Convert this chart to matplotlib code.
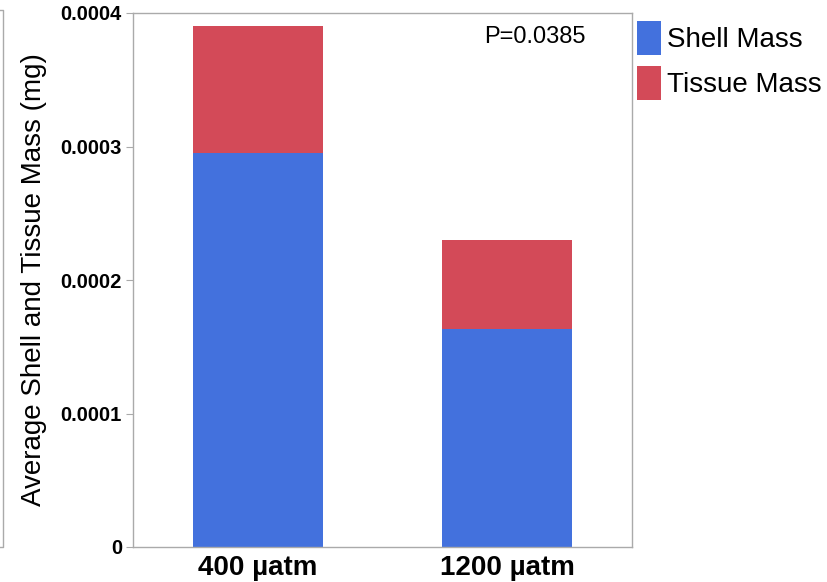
"""Stacked bars: average shell and tissue mass under two pCO2 treatments."""

import matplotlib

matplotlib.use("Agg")
import matplotlib.pyplot as plt
from matplotlib.lines import Line2D

plt.rcParams["font.family"] = ["Liberation Sans", "DejaVu Sans"]

treatments = ["400 \u00b5atm", "1200 \u00b5atm"]
shell_mass = [0.000295, 0.000163]
tissue_mass = [0.000095, 0.000067]
p_value_text = "P=0.0385"

SHELL_COLOR = "#4371DD"
TISSUE_COLOR = "#D34A58"
SPINE_COLOR = "#AAAAAA"

fig = plt.figure(figsize=(8.27, 5.82), dpi=100)
ax = fig.add_axes([133 / 827, 35 / 582, 499 / 827, 534 / 582])

x = range(len(treatments))
ax.bar(x, shell_mass, width=0.52, color=SHELL_COLOR, label="Shell Mass")
ax.bar(x, tissue_mass, width=0.52, bottom=shell_mass, color=TISSUE_COLOR, label="Tissue Mass")

ax.set_xlim(-0.5, 1.5)
ax.set_ylim(0, 0.0004)
ax.set_yticks([0, 0.0001, 0.0002, 0.0003, 0.0004])
ax.set_yticklabels(["0", "0.0001", "0.0002", "0.0003", "0.0004"], fontsize=14.5, fontweight="bold")
ax.set_xticks(list(x))
ax.set_xticklabels(treatments, fontsize=20, fontweight="bold")
ax.tick_params(axis="x", length=0, pad=6)
ax.tick_params(axis="y", length=5, color=SPINE_COLOR, pad=3)
for spine in ax.spines.values():
    spine.set_color(SPINE_COLOR)
    spine.set_linewidth(1.0)

ax.set_ylabel("Average Shell and Tissue Mass (mg)", fontsize=20, labelpad=9.5)
ax.text(1.11, 0.000382, p_value_text, fontsize=17, ha="center", va="center")

ax.legend(loc="upper left", bbox_to_anchor=(0.994, 1.0), frameon=False, fontsize=20,
          handlelength=0.85, handleheight=1.5, handletextpad=0.22, labelspacing=0.4,
          borderaxespad=0.0, borderpad=0.3)

# edge of a neighbouring panel at the far left
fig.add_artist(Line2D([0, 3 / 827, 3 / 827, 0], [1 - 10 / 582, 1 - 10 / 582, 1 - 547 / 582, 1 - 547 / 582],
                      transform=fig.transFigure, color=SPINE_COLOR, linewidth=1.0))

fig.savefig("out.png", dpi=100)
